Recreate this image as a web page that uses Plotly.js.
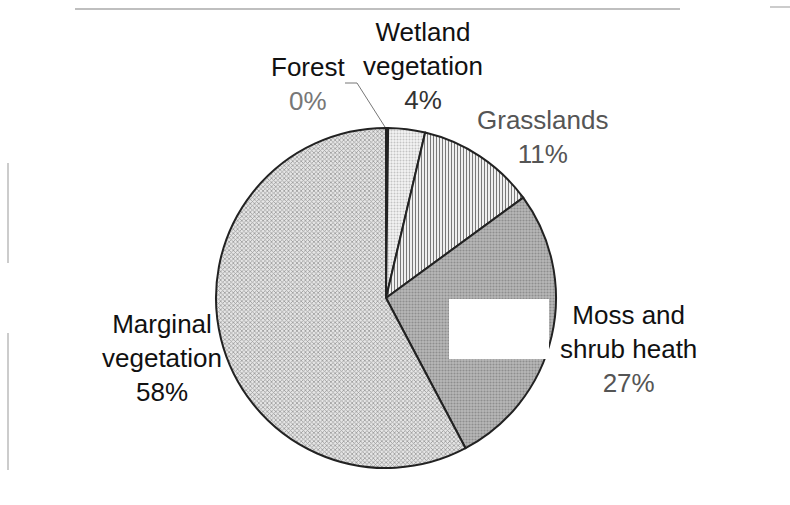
<!DOCTYPE html>
<html>
<head>
<meta charset="utf-8">
<script src="https://cdn.plot.ly/plotly-3.0.1.min.js"></script>
<style>html,body{margin:0;padding:0;background:#fff;}#chart{width:790px;height:505px;}</style>
</head>
<body>
<div id="chart"></div>
<script>
// Data (percent of area)
const categories = ["Forest", "Wetland vegetation", "Grasslands", "Moss and shrub heath", "Marginal vegetation"];
const labelLines = [["Forest"], ["Wetland", "vegetation"], ["Grasslands"], ["Moss and", "shrub heath"], ["Marginal", "vegetation"]];
const shares = [0.2, 3.5, 11.25, 27.3, 57.75];

// Styles
const patShape = ["", ".", "|", ".", "x"];
const patBg = ["#ffffff", "#f4f4f4", "#f0f0f0", "#b8b8b8", "#e6e6e6"];
const patFg = ["#ffffff", "#c4c4c4", "#7a7a7a", "#8e8e8e", "#9a9a9a"];
const patSize = [4, 3, 3, 3, 3];
const patSolid = [0.3, 0.35, 0.35, 0.4, 0.45];
const nameColor = ["#111", "#111", "#555", "#111", "#111"];
const pctColor = ["#777", "#333", "#555", "#555", "#111"];
// label block centres (px)
const lblX = [308, 423, 543, 628, 162];
const lblY = [84, 66, 136.5, 349, 358];

const W = 790, H = 505;
const total = shares.reduce((a, b) => a + b, 0);

const trace = {
  type: "pie",
  labels: categories,
  values: shares,
  sort: false,
  direction: "clockwise",
  rotation: 0,
  textinfo: "none",
  hoverinfo: "label+percent",
  showlegend: false,
  domain: {x: [216 / W, 556 / W], y: [37 / H, 377 / H]},
  marker: {
    colors: patBg,
    line: {color: "#222222", width: 2},
    pattern: {shape: patShape, bgcolor: patBg, fgcolor: patFg, size: patSize, solidity: patSolid, fillmode: "replace"}
  }
};

const annotations = categories.map((c, i) => {
  const pct = Math.round(shares[i] / total * 100) + "%";
  const name = labelLines[i].map(s => `<span style="color:${nameColor[i]}">${s}</span>`).join("<br>");
  return {
    xref: "paper", yref: "paper",
    x: lblX[i] / W, y: 1 - lblY[i] / H,
    xanchor: "center", yanchor: "middle",
    showarrow: false,
    align: "center",
    text: name + "<br>" + `<span style="color:${pctColor[i]}">${pct}</span>`,
    font: {family: "Liberation Sans, Arial, sans-serif", size: 26, color: "#111"}
  };
});

const px = (x) => x / W, py = (y) => 1 - y / H;
const shapes = [
  // leader line for Forest
  {type: "path", xref: "paper", yref: "paper", layer: "above",
   path: `M ${px(345)} ${py(83)} L ${px(357)} ${py(83)} L ${px(385)} ${py(127)}`,
   line: {color: "#777", width: 1}},
  // scanned frame remnants
  {type: "line", xref: "paper", yref: "paper", x0: px(75), x1: px(680), y0: py(9), y1: py(9), line: {color: "#aaa", width: 1.5}},
  {type: "line", xref: "paper", yref: "paper", x0: px(770), x1: px(790), y0: py(7), y1: py(7), line: {color: "#ccc", width: 2}},
  {type: "line", xref: "paper", yref: "paper", x0: px(8), x1: px(8), y0: py(163), y1: py(263), line: {color: "#bbb", width: 1.5}},
  {type: "line", xref: "paper", yref: "paper", x0: px(8), x1: px(8), y0: py(333), y1: py(470), line: {color: "#bbb", width: 1.5}},
  // white patch over the chart
  {type: "rect", xref: "paper", yref: "paper", layer: "above", x0: px(449), x1: px(549), y0: py(299), y1: py(359),
   fillcolor: "#ffffff", line: {width: 0}}
];

const layout = {
  width: W, height: H,
  margin: {l: 0, r: 0, t: 0, b: 0},
  paper_bgcolor: "#ffffff",
  plot_bgcolor: "#ffffff",
  annotations: annotations,
  shapes: shapes,
  font: {family: "Liberation Sans, Arial, sans-serif"}
};

Plotly.newPlot("chart", [trace], layout, {displayModeBar: false, staticPlot: true});
</script>
</body>
</html>
